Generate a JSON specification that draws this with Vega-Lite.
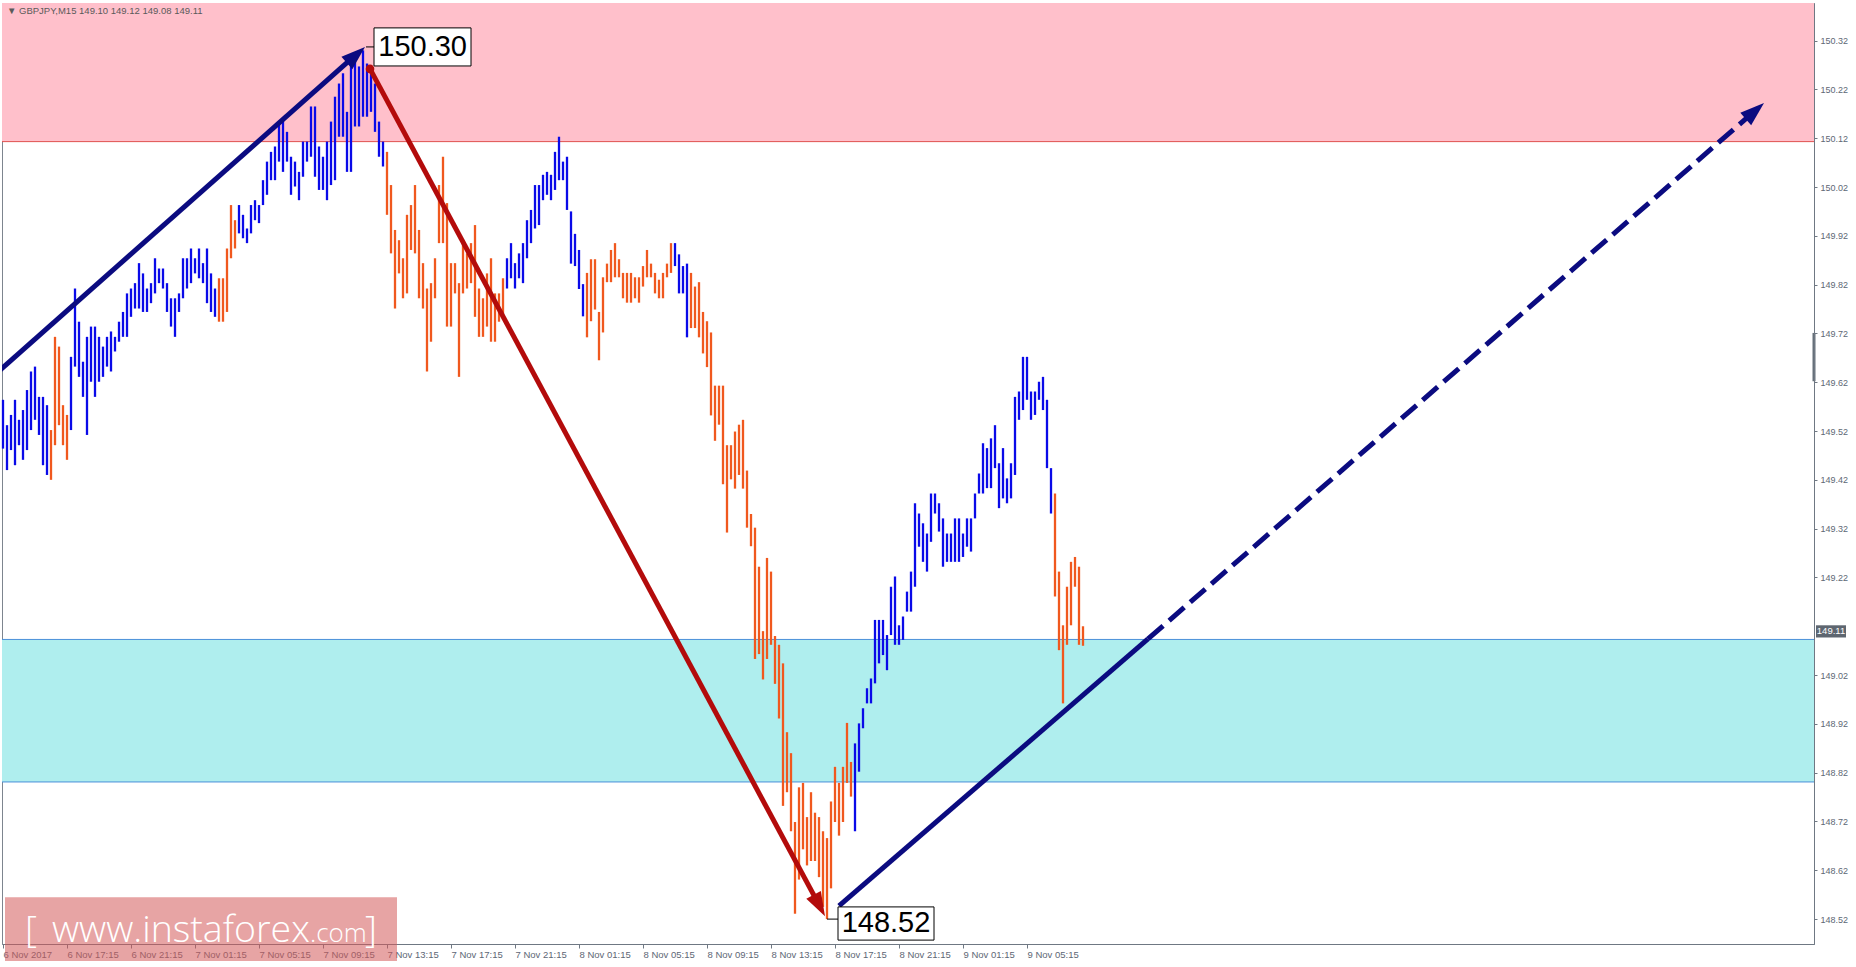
{
"$schema": "https://vega.github.io/schema/vega-lite/v6.json",
"width": 1812, "height": 941,
"autosize": {"type": "none"},
"padding": {"left": 2, "top": 3, "right": 42, "bottom": 23},
"background": "#ffffff",
"view": {"stroke": "#7d858f", "strokeWidth": 1},
"config": {"axis": {"title": null, "grid": false}, "font": "Liberation Sans"},
"resolve": {"axis": {"x": "independent", "y": "independent"}},
"datasets": {
"zones": [{"z":"resistance","lo":150.113,"hi":150.6},{"z":"support","lo":148.801,"hi":149.093}],
"levels": [{"z":"resistance","v":150.113},{"z":"support","v":149.093},{"z":"support","v":148.801}],
"bars": [
{"t":"2017-11-06T13:15Z","h":149.584,"l":149.484,"dir":"up"},
{"t":"2017-11-06T13:30Z","h":149.532,"l":149.440,"dir":"up"},
{"t":"2017-11-06T13:45Z","h":149.553,"l":149.481,"dir":"up"},
{"t":"2017-11-06T14:00Z","h":149.584,"l":149.450,"dir":"up"},
{"t":"2017-11-06T14:15Z","h":149.543,"l":149.491,"dir":"up"},
{"t":"2017-11-06T14:30Z","h":149.563,"l":149.461,"dir":"up"},
{"t":"2017-11-06T14:45Z","h":149.604,"l":149.481,"dir":"up"},
{"t":"2017-11-06T15:00Z","h":149.642,"l":149.522,"dir":"up"},
{"t":"2017-11-06T15:15Z","h":149.652,"l":149.543,"dir":"up"},
{"t":"2017-11-06T15:30Z","h":149.590,"l":149.512,"dir":"up"},
{"t":"2017-11-06T15:45Z","h":149.590,"l":149.450,"dir":"up"},
{"t":"2017-11-06T16:00Z","h":149.573,"l":149.430,"dir":"up"},
{"t":"2017-11-06T16:15Z","h":149.522,"l":149.420,"dir":"down"},
{"t":"2017-11-06T16:30Z","h":149.713,"l":149.491,"dir":"down"},
{"t":"2017-11-06T16:45Z","h":149.693,"l":149.532,"dir":"down"},
{"t":"2017-11-06T17:00Z","h":149.573,"l":149.491,"dir":"down"},
{"t":"2017-11-06T17:15Z","h":149.553,"l":149.461,"dir":"down"},
{"t":"2017-11-06T17:30Z","h":149.672,"l":149.522,"dir":"up"},
{"t":"2017-11-06T17:45Z","h":149.812,"l":149.652,"dir":"up"},
{"t":"2017-11-06T18:00Z","h":149.744,"l":149.631,"dir":"up"},
{"t":"2017-11-06T18:15Z","h":149.662,"l":149.590,"dir":"up"},
{"t":"2017-11-06T18:30Z","h":149.713,"l":149.512,"dir":"up"},
{"t":"2017-11-06T18:45Z","h":149.734,"l":149.621,"dir":"up"},
{"t":"2017-11-06T19:00Z","h":149.734,"l":149.590,"dir":"up"},
{"t":"2017-11-06T19:15Z","h":149.713,"l":149.621,"dir":"up"},
{"t":"2017-11-06T19:30Z","h":149.693,"l":149.631,"dir":"up"},
{"t":"2017-11-06T19:45Z","h":149.713,"l":149.652,"dir":"up"},
{"t":"2017-11-06T20:00Z","h":149.724,"l":149.642,"dir":"up"},
{"t":"2017-11-06T20:15Z","h":149.713,"l":149.683,"dir":"up"},
{"t":"2017-11-06T20:30Z","h":149.744,"l":149.703,"dir":"up"},
{"t":"2017-11-06T20:45Z","h":149.764,"l":149.713,"dir":"up"},
{"t":"2017-11-06T21:00Z","h":149.802,"l":149.713,"dir":"up"},
{"t":"2017-11-06T21:15Z","h":149.812,"l":149.754,"dir":"up"},
{"t":"2017-11-06T21:30Z","h":149.823,"l":149.771,"dir":"up"},
{"t":"2017-11-06T21:45Z","h":149.864,"l":149.771,"dir":"up"},
{"t":"2017-11-06T22:00Z","h":149.843,"l":149.764,"dir":"up"},
{"t":"2017-11-06T22:15Z","h":149.812,"l":149.764,"dir":"up"},
{"t":"2017-11-06T22:30Z","h":149.823,"l":149.782,"dir":"up"},
{"t":"2017-11-06T22:45Z","h":149.874,"l":149.802,"dir":"up"},
{"t":"2017-11-06T23:00Z","h":149.853,"l":149.823,"dir":"up"},
{"t":"2017-11-06T23:15Z","h":149.853,"l":149.812,"dir":"up"},
{"t":"2017-11-06T23:30Z","h":149.823,"l":149.764,"dir":"up"},
{"t":"2017-11-06T23:45Z","h":149.792,"l":149.734,"dir":"up"},
{"t":"2017-11-07T00:00Z","h":149.792,"l":149.713,"dir":"up"},
{"t":"2017-11-07T00:15Z","h":149.802,"l":149.764,"dir":"up"},
{"t":"2017-11-07T00:30Z","h":149.874,"l":149.792,"dir":"up"},
{"t":"2017-11-07T00:45Z","h":149.874,"l":149.812,"dir":"up"},
{"t":"2017-11-07T01:00Z","h":149.894,"l":149.823,"dir":"up"},
{"t":"2017-11-07T01:15Z","h":149.874,"l":149.843,"dir":"up"},
{"t":"2017-11-07T01:30Z","h":149.894,"l":149.833,"dir":"up"},
{"t":"2017-11-07T01:45Z","h":149.864,"l":149.823,"dir":"up"},
{"t":"2017-11-07T02:00Z","h":149.894,"l":149.782,"dir":"up"},
{"t":"2017-11-07T02:15Z","h":149.843,"l":149.764,"dir":"up"},
{"t":"2017-11-07T02:30Z","h":149.812,"l":149.754,"dir":"up"},
{"t":"2017-11-07T02:45Z","h":149.833,"l":149.744,"dir":"down"},
{"t":"2017-11-07T03:00Z","h":149.833,"l":149.744,"dir":"down"},
{"t":"2017-11-07T03:15Z","h":149.894,"l":149.764,"dir":"down"},
{"t":"2017-11-07T03:30Z","h":149.983,"l":149.874,"dir":"down"},
{"t":"2017-11-07T03:45Z","h":149.952,"l":149.894,"dir":"down"},
{"t":"2017-11-07T04:00Z","h":149.983,"l":149.925,"dir":"up"},
{"t":"2017-11-07T04:15Z","h":149.963,"l":149.915,"dir":"up"},
{"t":"2017-11-07T04:30Z","h":149.935,"l":149.905,"dir":"up"},
{"t":"2017-11-07T04:45Z","h":149.983,"l":149.925,"dir":"up"},
{"t":"2017-11-07T05:00Z","h":149.993,"l":149.952,"dir":"up"},
{"t":"2017-11-07T05:15Z","h":149.983,"l":149.946,"dir":"up"},
{"t":"2017-11-07T05:30Z","h":150.034,"l":149.983,"dir":"up"},
{"t":"2017-11-07T05:45Z","h":150.072,"l":150.004,"dir":"up"},
{"t":"2017-11-07T06:00Z","h":150.092,"l":150.034,"dir":"up"},
{"t":"2017-11-07T06:15Z","h":150.103,"l":150.034,"dir":"up"},
{"t":"2017-11-07T06:30Z","h":150.150,"l":150.072,"dir":"up"},
{"t":"2017-11-07T06:45Z","h":150.157,"l":150.051,"dir":"up"},
{"t":"2017-11-07T07:00Z","h":150.133,"l":150.072,"dir":"up"},
{"t":"2017-11-07T07:15Z","h":150.082,"l":150.004,"dir":"up"},
{"t":"2017-11-07T07:30Z","h":150.072,"l":150.021,"dir":"up"},
{"t":"2017-11-07T07:45Z","h":150.051,"l":149.993,"dir":"up"},
{"t":"2017-11-07T08:00Z","h":150.113,"l":150.041,"dir":"up"},
{"t":"2017-11-07T08:15Z","h":150.113,"l":150.072,"dir":"up"},
{"t":"2017-11-07T08:30Z","h":150.185,"l":150.082,"dir":"up"},
{"t":"2017-11-07T08:45Z","h":150.185,"l":150.041,"dir":"up"},
{"t":"2017-11-07T09:00Z","h":150.103,"l":150.014,"dir":"up"},
{"t":"2017-11-07T09:15Z","h":150.082,"l":150.014,"dir":"up"},
{"t":"2017-11-07T09:30Z","h":150.113,"l":149.993,"dir":"up"},
{"t":"2017-11-07T09:45Z","h":150.154,"l":150.024,"dir":"up"},
{"t":"2017-11-07T10:00Z","h":150.205,"l":150.034,"dir":"up"},
{"t":"2017-11-07T10:15Z","h":150.232,"l":150.123,"dir":"up"},
{"t":"2017-11-07T10:30Z","h":150.253,"l":150.123,"dir":"up"},
{"t":"2017-11-07T10:45Z","h":150.174,"l":150.051,"dir":"up"},
{"t":"2017-11-07T11:00Z","h":150.273,"l":150.051,"dir":"up"},
{"t":"2017-11-07T11:15Z","h":150.284,"l":150.144,"dir":"up"},
{"t":"2017-11-07T11:30Z","h":150.267,"l":150.144,"dir":"up"},
{"t":"2017-11-07T11:45Z","h":150.300,"l":150.164,"dir":"up"},
{"t":"2017-11-07T12:00Z","h":150.273,"l":150.164,"dir":"up"},
{"t":"2017-11-07T12:15Z","h":150.260,"l":150.174,"dir":"up"},
{"t":"2017-11-07T12:30Z","h":150.232,"l":150.133,"dir":"up"},
{"t":"2017-11-07T12:45Z","h":150.154,"l":150.082,"dir":"up"},
{"t":"2017-11-07T13:00Z","h":150.113,"l":150.062,"dir":"up"},
{"t":"2017-11-07T13:15Z","h":150.092,"l":149.963,"dir":"down"},
{"t":"2017-11-07T13:30Z","h":150.024,"l":149.884,"dir":"down"},
{"t":"2017-11-07T13:45Z","h":149.932,"l":149.771,"dir":"down"},
{"t":"2017-11-07T14:00Z","h":149.911,"l":149.843,"dir":"down"},
{"t":"2017-11-07T14:15Z","h":149.874,"l":149.792,"dir":"down"},
{"t":"2017-11-07T14:30Z","h":149.963,"l":149.802,"dir":"down"},
{"t":"2017-11-07T14:45Z","h":149.983,"l":149.891,"dir":"down"},
{"t":"2017-11-07T15:00Z","h":150.024,"l":149.884,"dir":"down"},
{"t":"2017-11-07T15:15Z","h":149.932,"l":149.792,"dir":"down"},
{"t":"2017-11-07T15:30Z","h":149.864,"l":149.771,"dir":"down"},
{"t":"2017-11-07T15:45Z","h":149.812,"l":149.642,"dir":"down"},
{"t":"2017-11-07T16:00Z","h":149.823,"l":149.703,"dir":"down"},
{"t":"2017-11-07T16:15Z","h":149.874,"l":149.792,"dir":"down"},
{"t":"2017-11-07T16:30Z","h":150.024,"l":149.905,"dir":"down"},
{"t":"2017-11-07T16:45Z","h":150.082,"l":149.905,"dir":"down"},
{"t":"2017-11-07T17:00Z","h":149.987,"l":149.734,"dir":"down"},
{"t":"2017-11-07T17:15Z","h":149.864,"l":149.734,"dir":"down"},
{"t":"2017-11-07T17:30Z","h":149.864,"l":149.802,"dir":"down"},
{"t":"2017-11-07T17:45Z","h":149.823,"l":149.631,"dir":"down"},
{"t":"2017-11-07T18:00Z","h":149.905,"l":149.802,"dir":"down"},
{"t":"2017-11-07T18:15Z","h":149.884,"l":149.812,"dir":"down"},
{"t":"2017-11-07T18:30Z","h":149.905,"l":149.823,"dir":"down"},
{"t":"2017-11-07T18:45Z","h":149.942,"l":149.754,"dir":"down"},
{"t":"2017-11-07T19:00Z","h":149.812,"l":149.713,"dir":"down"},
{"t":"2017-11-07T19:15Z","h":149.792,"l":149.713,"dir":"down"},
{"t":"2017-11-07T19:30Z","h":149.843,"l":149.734,"dir":"down"},
{"t":"2017-11-07T19:45Z","h":149.874,"l":149.703,"dir":"down"},
{"t":"2017-11-07T20:00Z","h":149.802,"l":149.703,"dir":"down"},
{"t":"2017-11-07T20:15Z","h":149.802,"l":149.744,"dir":"down"},
{"t":"2017-11-07T20:30Z","h":149.833,"l":149.754,"dir":"down"},
{"t":"2017-11-07T20:45Z","h":149.874,"l":149.812,"dir":"up"},
{"t":"2017-11-07T21:00Z","h":149.905,"l":149.833,"dir":"up"},
{"t":"2017-11-07T21:15Z","h":149.864,"l":149.812,"dir":"up"},
{"t":"2017-11-07T21:30Z","h":149.884,"l":149.833,"dir":"up"},
{"t":"2017-11-07T21:45Z","h":149.905,"l":149.823,"dir":"up"},
{"t":"2017-11-07T22:00Z","h":149.952,"l":149.874,"dir":"up"},
{"t":"2017-11-07T22:15Z","h":149.973,"l":149.905,"dir":"up"},
{"t":"2017-11-07T22:30Z","h":150.024,"l":149.935,"dir":"up"},
{"t":"2017-11-07T22:45Z","h":150.024,"l":149.942,"dir":"up"},
{"t":"2017-11-07T23:00Z","h":150.045,"l":149.993,"dir":"up"},
{"t":"2017-11-07T23:15Z","h":150.051,"l":150.004,"dir":"up"},
{"t":"2017-11-07T23:30Z","h":150.045,"l":149.993,"dir":"up"},
{"t":"2017-11-07T23:45Z","h":150.092,"l":150.014,"dir":"up"},
{"t":"2017-11-08T00:00Z","h":150.123,"l":150.034,"dir":"up"},
{"t":"2017-11-08T00:15Z","h":150.072,"l":150.034,"dir":"up"},
{"t":"2017-11-08T00:30Z","h":150.082,"l":149.973,"dir":"up"},
{"t":"2017-11-08T00:45Z","h":149.970,"l":149.863,"dir":"up"},
{"t":"2017-11-08T01:00Z","h":149.924,"l":149.858,"dir":"up"},
{"t":"2017-11-08T01:15Z","h":149.891,"l":149.811,"dir":"up"},
{"t":"2017-11-08T01:30Z","h":149.821,"l":149.755,"dir":"up"},
{"t":"2017-11-08T01:45Z","h":149.844,"l":149.712,"dir":"down"},
{"t":"2017-11-08T02:00Z","h":149.872,"l":149.745,"dir":"down"},
{"t":"2017-11-08T02:15Z","h":149.872,"l":149.769,"dir":"down"},
{"t":"2017-11-08T02:30Z","h":149.764,"l":149.665,"dir":"down"},
{"t":"2017-11-08T02:45Z","h":149.835,"l":149.722,"dir":"down"},
{"t":"2017-11-08T03:00Z","h":149.863,"l":149.825,"dir":"down"},
{"t":"2017-11-08T03:15Z","h":149.891,"l":149.825,"dir":"down"},
{"t":"2017-11-08T03:30Z","h":149.905,"l":149.835,"dir":"down"},
{"t":"2017-11-08T03:45Z","h":149.872,"l":149.835,"dir":"down"},
{"t":"2017-11-08T04:00Z","h":149.844,"l":149.792,"dir":"down"},
{"t":"2017-11-08T04:15Z","h":149.844,"l":149.783,"dir":"down"},
{"t":"2017-11-08T04:30Z","h":149.844,"l":149.783,"dir":"down"},
{"t":"2017-11-08T04:45Z","h":149.835,"l":149.792,"dir":"down"},
{"t":"2017-11-08T05:00Z","h":149.835,"l":149.783,"dir":"down"},
{"t":"2017-11-08T05:15Z","h":149.858,"l":149.816,"dir":"down"},
{"t":"2017-11-08T05:30Z","h":149.891,"l":149.835,"dir":"down"},
{"t":"2017-11-08T05:45Z","h":149.863,"l":149.835,"dir":"down"},
{"t":"2017-11-08T06:00Z","h":149.844,"l":149.802,"dir":"down"},
{"t":"2017-11-08T06:15Z","h":149.830,"l":149.792,"dir":"down"},
{"t":"2017-11-08T06:30Z","h":149.844,"l":149.792,"dir":"down"},
{"t":"2017-11-08T06:45Z","h":149.863,"l":149.835,"dir":"down"},
{"t":"2017-11-08T07:00Z","h":149.905,"l":149.844,"dir":"down"},
{"t":"2017-11-08T07:15Z","h":149.905,"l":149.858,"dir":"up"},
{"t":"2017-11-08T07:30Z","h":149.882,"l":149.802,"dir":"up"},
{"t":"2017-11-08T07:45Z","h":149.858,"l":149.802,"dir":"up"},
{"t":"2017-11-08T08:00Z","h":149.863,"l":149.712,"dir":"up"},
{"t":"2017-11-08T08:15Z","h":149.844,"l":149.731,"dir":"down"},
{"t":"2017-11-08T08:30Z","h":149.816,"l":149.731,"dir":"down"},
{"t":"2017-11-08T08:45Z","h":149.825,"l":149.712,"dir":"down"},
{"t":"2017-11-08T09:00Z","h":149.764,"l":149.679,"dir":"down"},
{"t":"2017-11-08T09:15Z","h":149.745,"l":149.651,"dir":"down"},
{"t":"2017-11-08T09:30Z","h":149.722,"l":149.552,"dir":"down"},
{"t":"2017-11-08T09:45Z","h":149.613,"l":149.500,"dir":"down"},
{"t":"2017-11-08T10:00Z","h":149.613,"l":149.533,"dir":"down"},
{"t":"2017-11-08T10:15Z","h":149.613,"l":149.411,"dir":"down"},
{"t":"2017-11-08T10:30Z","h":149.491,"l":149.312,"dir":"down"},
{"t":"2017-11-08T10:45Z","h":149.491,"l":149.421,"dir":"down"},
{"t":"2017-11-08T11:00Z","h":149.519,"l":149.402,"dir":"down"},
{"t":"2017-11-08T11:15Z","h":149.533,"l":149.430,"dir":"down"},
{"t":"2017-11-08T11:30Z","h":149.543,"l":149.402,"dir":"down"},
{"t":"2017-11-08T11:45Z","h":149.439,"l":149.322,"dir":"down"},
{"t":"2017-11-08T12:00Z","h":149.350,"l":149.284,"dir":"down"},
{"t":"2017-11-08T12:15Z","h":149.322,"l":149.053,"dir":"down"},
{"t":"2017-11-08T12:30Z","h":149.242,"l":149.063,"dir":"down"},
{"t":"2017-11-08T12:45Z","h":149.110,"l":149.011,"dir":"down"},
{"t":"2017-11-08T13:00Z","h":149.260,"l":149.053,"dir":"down"},
{"t":"2017-11-08T13:15Z","h":149.232,"l":149.082,"dir":"down"},
{"t":"2017-11-08T13:30Z","h":149.100,"l":149.002,"dir":"down"},
{"t":"2017-11-08T13:45Z","h":149.082,"l":148.931,"dir":"down"},
{"t":"2017-11-08T14:00Z","h":149.044,"l":148.752,"dir":"down"},
{"t":"2017-11-08T14:15Z","h":148.903,"l":148.780,"dir":"down"},
{"t":"2017-11-08T14:30Z","h":148.860,"l":148.700,"dir":"down"},
{"t":"2017-11-08T14:45Z","h":148.719,"l":148.531,"dir":"down"},
{"t":"2017-11-08T15:00Z","h":148.790,"l":148.601,"dir":"down"},
{"t":"2017-11-08T15:15Z","h":148.799,"l":148.663,"dir":"down"},
{"t":"2017-11-08T15:30Z","h":148.729,"l":148.630,"dir":"down"},
{"t":"2017-11-08T15:45Z","h":148.780,"l":148.639,"dir":"down"},
{"t":"2017-11-08T16:00Z","h":148.738,"l":148.639,"dir":"down"},
{"t":"2017-11-08T16:15Z","h":148.729,"l":148.606,"dir":"down"},
{"t":"2017-11-08T16:30Z","h":148.700,"l":148.545,"dir":"down"},
{"t":"2017-11-08T16:45Z","h":148.686,"l":148.520,"dir":"down"},
{"t":"2017-11-08T17:00Z","h":148.761,"l":148.583,"dir":"down"},
{"t":"2017-11-08T17:15Z","h":148.832,"l":148.719,"dir":"down"},
{"t":"2017-11-08T17:30Z","h":148.799,"l":148.691,"dir":"down"},
{"t":"2017-11-08T17:45Z","h":148.832,"l":148.719,"dir":"down"},
{"t":"2017-11-08T18:00Z","h":148.922,"l":148.799,"dir":"down"},
{"t":"2017-11-08T18:15Z","h":148.842,"l":148.771,"dir":"down"},
{"t":"2017-11-08T18:30Z","h":148.880,"l":148.700,"dir":"up"},
{"t":"2017-11-08T18:45Z","h":148.921,"l":148.822,"dir":"up"},
{"t":"2017-11-08T19:00Z","h":148.952,"l":148.911,"dir":"up"},
{"t":"2017-11-08T19:15Z","h":148.993,"l":148.962,"dir":"up"},
{"t":"2017-11-08T19:30Z","h":149.013,"l":148.962,"dir":"up"},
{"t":"2017-11-08T19:45Z","h":149.133,"l":149.003,"dir":"up"},
{"t":"2017-11-08T20:00Z","h":149.133,"l":149.044,"dir":"up"},
{"t":"2017-11-08T20:15Z","h":149.133,"l":149.061,"dir":"up"},
{"t":"2017-11-08T20:30Z","h":149.102,"l":149.030,"dir":"up"},
{"t":"2017-11-08T20:45Z","h":149.201,"l":149.102,"dir":"up"},
{"t":"2017-11-08T21:00Z","h":149.222,"l":149.082,"dir":"up"},
{"t":"2017-11-08T21:15Z","h":149.122,"l":149.082,"dir":"up"},
{"t":"2017-11-08T21:30Z","h":149.140,"l":149.092,"dir":"up"},
{"t":"2017-11-08T21:45Z","h":149.191,"l":149.150,"dir":"up"},
{"t":"2017-11-08T22:00Z","h":149.232,"l":149.150,"dir":"up"},
{"t":"2017-11-08T22:15Z","h":149.372,"l":149.201,"dir":"up"},
{"t":"2017-11-08T22:30Z","h":149.351,"l":149.283,"dir":"up"},
{"t":"2017-11-08T22:45Z","h":149.331,"l":149.252,"dir":"up"},
{"t":"2017-11-08T23:00Z","h":149.310,"l":149.232,"dir":"up"},
{"t":"2017-11-08T23:15Z","h":149.392,"l":149.293,"dir":"up"},
{"t":"2017-11-08T23:30Z","h":149.392,"l":149.351,"dir":"up"},
{"t":"2017-11-08T23:45Z","h":149.372,"l":149.314,"dir":"up"},
{"t":"2017-11-09T00:00Z","h":149.341,"l":149.242,"dir":"up"},
{"t":"2017-11-09T00:15Z","h":149.310,"l":149.252,"dir":"up"},
{"t":"2017-11-09T00:30Z","h":149.310,"l":149.252,"dir":"up"},
{"t":"2017-11-09T00:45Z","h":149.341,"l":149.252,"dir":"up"},
{"t":"2017-11-09T01:00Z","h":149.341,"l":149.252,"dir":"up"},
{"t":"2017-11-09T01:15Z","h":149.310,"l":149.262,"dir":"up"},
{"t":"2017-11-09T01:30Z","h":149.341,"l":149.283,"dir":"up"},
{"t":"2017-11-09T01:45Z","h":149.341,"l":149.273,"dir":"up"},
{"t":"2017-11-09T02:00Z","h":149.392,"l":149.341,"dir":"up"},
{"t":"2017-11-09T02:15Z","h":149.433,"l":149.392,"dir":"up"},
{"t":"2017-11-09T02:30Z","h":149.495,"l":149.392,"dir":"up"},
{"t":"2017-11-09T02:45Z","h":149.485,"l":149.403,"dir":"up"},
{"t":"2017-11-09T03:00Z","h":149.505,"l":149.403,"dir":"up"},
{"t":"2017-11-09T03:15Z","h":149.532,"l":149.444,"dir":"up"},
{"t":"2017-11-09T03:30Z","h":149.454,"l":149.362,"dir":"up"},
{"t":"2017-11-09T03:45Z","h":149.485,"l":149.382,"dir":"up"},
{"t":"2017-11-09T04:00Z","h":149.423,"l":149.372,"dir":"up"},
{"t":"2017-11-09T04:15Z","h":149.454,"l":149.382,"dir":"up"},
{"t":"2017-11-09T04:30Z","h":149.590,"l":149.430,"dir":"up"},
{"t":"2017-11-09T04:45Z","h":149.601,"l":149.543,"dir":"up"},
{"t":"2017-11-09T05:00Z","h":149.672,"l":149.563,"dir":"up"},
{"t":"2017-11-09T05:15Z","h":149.672,"l":149.584,"dir":"up"},
{"t":"2017-11-09T05:30Z","h":149.601,"l":149.543,"dir":"up"},
{"t":"2017-11-09T05:45Z","h":149.601,"l":149.553,"dir":"up"},
{"t":"2017-11-09T06:00Z","h":149.621,"l":149.584,"dir":"up"},
{"t":"2017-11-09T06:15Z","h":149.631,"l":149.563,"dir":"up"},
{"t":"2017-11-09T06:30Z","h":149.584,"l":149.444,"dir":"up"},
{"t":"2017-11-09T06:45Z","h":149.444,"l":149.351,"dir":"up"},
{"t":"2017-11-09T07:00Z","h":149.392,"l":149.181,"dir":"down"},
{"t":"2017-11-09T07:15Z","h":149.232,"l":149.071,"dir":"down"},
{"t":"2017-11-09T07:30Z","h":149.122,"l":148.962,"dir":"down"},
{"t":"2017-11-09T07:45Z","h":149.201,"l":149.082,"dir":"down"},
{"t":"2017-11-09T08:00Z","h":149.252,"l":149.122,"dir":"down"},
{"t":"2017-11-09T08:15Z","h":149.262,"l":149.201,"dir":"down"},
{"t":"2017-11-09T08:30Z","h":149.242,"l":149.082,"dir":"down"},
{"t":"2017-11-09T08:45Z","h":149.120,"l":149.080,"dir":"down"}
],
"lines": [
{"s":"up","t":"2017-11-06T12:41:15Z","p":149.634},{"s":"up","t":"2017-11-07T11:18:45Z","p":150.291},
{"s":"down","t":"2017-11-07T12:11:15Z","p":150.262},{"s":"down","t":"2017-11-08T16:16:12Z","p":148.548},
{"s":"next","t":"2017-11-08T17:30:00Z","p":148.547},{"s":"next","t":"2017-11-09T12:48:45Z","p":149.094},
{"s":"proj","t":"2017-11-09T12:48:45Z","p":149.094},{"s":"proj","t":"2017-11-11T02:44:42Z","p":150.176}
],
"heads": [
{"s":"up","t":"2017-11-07T11:52:30Z","p":150.307},
{"s":"down","t":"2017-11-08T16:37:30Z","p":148.526},
{"s":"proj","t":"2017-11-11T03:18:45Z","p":150.192}
],
"labels": [
{"text":"150.30","t1":"2017-11-07T12:26:15Z","t2":"2017-11-07T18:30:00Z","p1":150.268,"p2":150.346,"tc":"2017-11-07T15:28:30Z","pc":150.307,"ta":"2017-11-07T11:56:15Z","pa":150.307},
{"text":"148.52","t1":"2017-11-08T17:26:15Z","t2":"2017-11-08T23:26:15Z","p1":148.477,"p2":148.545,"tc":"2017-11-08T20:26:15Z","pc":148.512,"ta":"2017-11-08T16:45:00Z","pa":148.520}
],
"mark": [
{"t1":"2017-11-06T13:22:30Z","t2":"2017-11-07T13:52:30Z","p1":148.434,"p2":148.565}
],
"wm": [
{"text":"[","t":"2017-11-06T14:37:30Z","part":"big"},
{"text":"www.instaforex","t":"2017-11-06T16:18:45Z","part":"big"},
{"text":".com","t":"2017-11-07T08:26:15Z","part":"small"},
{"text":"]","t":"2017-11-07T11:52:30Z","part":"big"}
],
"info": [{"text":"▼ GBPJPY,M15  149.10 149.12 149.08 149.11","t":"2017-11-06T13:30:00Z","p":150.381}],
"tag": [{"text":"149.11","t1":"2017-11-11T06:33:45Z","t2":"2017-11-11T08:26:15Z","tc":"2017-11-11T07:30:00Z","p1":149.097,"p2":149.122,"p":149.11}],
"scroll": [{"t":"2017-11-11T06:26:15Z","p1":149.622,"p2":149.721}]
},
"layer": [
{"data":{"name":"zones"},"mark":{"type":"rect","clip":true},
 "encoding":{"y":{"field":"lo","type":"quantitative","axis":null},"y2":{"field":"hi"},
  "fill":{"field":"z","type":"nominal","scale":{"domain":["resistance","support"],"range":["#ffc0cb","#afeeee"]},"legend":null}}},
{"data":{"name":"levels"},"mark":{"type":"rule","strokeWidth":1},
 "encoding":{"y":{"field":"v","type":"quantitative","axis":null},
  "stroke":{"field":"z","type":"nominal","scale":{"domain":["resistance","support"],"range":["#e0504f","#4a90d9"]},"legend":null}}},
{"data":{"name":"bars"},"mark":{"type":"rule","strokeWidth":2.3},
 "encoding":{
  "x":{"field":"t","type":"temporal","scale":{"type":"utc","domain":[1509973875000,1510381575000]},
   "axis":{"orient":"bottom","values":[1509974100000,1509988500000,1510002900000,1510017300000,1510031700000,1510046100000,1510060500000,1510074900000,1510089300000,1510103700000,1510118100000,1510132500000,1510146900000,1510161300000,1510175700000,1510190100000,1510204500000],
    "labelExpr":"time(datum.value) == 1509974100000 ? '6 Nov 2017' : utcFormat(datum.value, '%-d %b %H:%M')",
    "labelAlign":"left","labelFontSize":9.5,"labelFont":"Liberation Sans","labelColor":"#5d6775","tickColor":"#6f7883","tickSize":4,"labelPadding":1,"domainColor":"#6f7883","labelOverlap":false,"labelFlush":false,"labelBound":false,"zindex":0}},
  "y":{"field":"l","type":"quantitative","scale":{"domain":[148.469,150.397],"nice":false,"zero":false},
   "axis":{"orient":"right","values":[150.32,150.22,150.12,150.02,149.92,149.82,149.72,149.62,149.52,149.42,149.32,149.22,149.02,148.92,148.82,148.72,148.62,148.52],
    "format":".2f","labelFontSize":9,"labelFont":"Liberation Sans","labelColor":"#5d6775","tickColor":"#6f7883","tickSize":3,"labelPadding":3,"domainColor":"#6f7883","labelOverlap":false,"labelFlush":false,"zindex":1}},
  "y2":{"field":"h"},
  "color":{"field":"dir","type":"nominal","scale":{"domain":["up","down"],"range":["#0a0ae8","#f0581e"]},"legend":null}}},
{"data":{"name":"lines"},"transform":[{"filter":"datum.s == 'up'"}],"mark":{"type":"line","clip":true,"color":"#0b0b80","strokeWidth":5,"strokeCap":"butt"},
 "encoding":{"x":{"field":"t","type":"temporal","axis":null},"y":{"field":"p","type":"quantitative","axis":null}}},
{"data":{"name":"lines"},"transform":[{"filter":"datum.s == 'down'"}],"mark":{"type":"line","clip":true,"color":"#b30b0b","strokeWidth":5,"strokeCap":"butt"},
 "encoding":{"x":{"field":"t","type":"temporal","axis":null},"y":{"field":"p","type":"quantitative","axis":null}}},
{"data":{"name":"lines"},"transform":[{"filter":"datum.s == 'next'"}],"mark":{"type":"line","clip":true,"color":"#0b0b80","strokeWidth":5,"strokeCap":"butt"},
 "encoding":{"x":{"field":"t","type":"temporal","axis":null},"y":{"field":"p","type":"quantitative","axis":null}}},
{"data":{"name":"lines"},"transform":[{"filter":"datum.s == 'proj'"}],"mark":{"type":"line","clip":true,"color":"#0b0b80","strokeWidth":5,"strokeCap":"butt","strokeDash":[20,8]},
 "encoding":{"x":{"field":"t","type":"temporal","axis":null},"y":{"field":"p","type":"quantitative","axis":null}}},
{"data":{"name":"lines"},"transform":[{"filter":"datum.s == 'down'"},{"filter":"datum.p > 150"}],"mark":{"type":"point","shape":"circle","filled":true,"size":75,"color":"#b30b0b","opacity":1},
 "encoding":{"x":{"field":"t","type":"temporal","axis":null},"y":{"field":"p","type":"quantitative","axis":null}}},
{"data":{"name":"heads"},"transform":[{"filter":"datum.s == 'up'"}],"mark":{"type":"point","shape":"M0,0L0.75,2.2L-0.75,2.2Z","filled":true,"size":484,"angle":48.5,"color":"#0b0b80","opacity":1,"strokeWidth":0},
 "encoding":{"x":{"field":"t","type":"temporal","axis":null},"y":{"field":"p","type":"quantitative","axis":null}}},
{"data":{"name":"heads"},"transform":[{"filter":"datum.s == 'down'"}],"mark":{"type":"point","shape":"M0,0L0.75,2.2L-0.75,2.2Z","filled":true,"size":484,"angle":151.8,"color":"#b30b0b","opacity":1,"strokeWidth":0},
 "encoding":{"x":{"field":"t","type":"temporal","axis":null},"y":{"field":"p","type":"quantitative","axis":null}}},
{"data":{"name":"heads"},"transform":[{"filter":"datum.s == 'proj'"}],"mark":{"type":"point","shape":"M0,0L0.75,2.2L-0.75,2.2Z","filled":true,"size":484,"angle":49,"color":"#0b0b80","opacity":1,"strokeWidth":0},
 "encoding":{"x":{"field":"t","type":"temporal","axis":null},"y":{"field":"p","type":"quantitative","axis":null}}},
{"data":{"name":"labels"},"mark":{"type":"rule","color":"#000000","strokeWidth":1},
 "encoding":{"x":{"field":"ta","type":"temporal","axis":null},"x2":{"field":"t1"},"y":{"field":"pa","type":"quantitative","axis":null}}},
{"data":{"name":"labels"},"mark":{"type":"rect","fill":"#ffffff","stroke":"#000000","strokeWidth":1},
 "encoding":{"x":{"field":"t1","type":"temporal","axis":null},"x2":{"field":"t2"},"y":{"field":"p1","type":"quantitative","axis":null},"y2":{"field":"p2"}}},
{"data":{"name":"labels"},"mark":{"type":"text","font":"Liberation Sans","fontSize":29,"align":"center","baseline":"middle","color":"#000000"},
 "encoding":{"x":{"field":"tc","type":"temporal","axis":null},"y":{"field":"pc","type":"quantitative","axis":null},"text":{"field":"text"}}},
{"data":{"name":"mark"},"mark":{"type":"rect","fill":"#d45a5a","opacity":0.55},
 "encoding":{"x":{"field":"t1","type":"temporal","axis":null},"x2":{"field":"t2"},"y":{"field":"p1","type":"quantitative","axis":null},"y2":{"field":"p2"}}},
{"data":{"name":"wm"},"transform":[{"filter":"datum.part == 'big'"},{"calculate":"148.473","as":"base"}],"mark":{"type":"text","font":"Open Sans","fontWeight":300,"fontSize":37.5,"align":"left","baseline":"alphabetic","color":"#ffffff"},
 "encoding":{"x":{"field":"t","type":"temporal","axis":null},"y":{"field":"base","type":"quantitative","axis":null},"text":{"field":"text"}}},
{"data":{"name":"wm"},"transform":[{"filter":"datum.part == 'small'"},{"calculate":"148.473","as":"base"}],"mark":{"type":"text","font":"Open Sans","fontWeight":300,"fontSize":26,"align":"left","baseline":"alphabetic","color":"#ffffff"},
 "encoding":{"x":{"field":"t","type":"temporal","axis":null},"y":{"field":"base","type":"quantitative","axis":null},"text":{"field":"text"}}},
{"data":{"name":"info"},"mark":{"type":"text","font":"Liberation Sans","fontSize":9.5,"align":"left","baseline":"middle","color":"#5a5a5a"},
 "encoding":{"x":{"field":"t","type":"temporal","axis":null},"y":{"field":"p","type":"quantitative","axis":null},"text":{"field":"text"}}},
{"data":{"name":"scroll"},"mark":{"type":"rule","color":"#66707a","strokeWidth":3},
 "encoding":{"x":{"field":"t","type":"temporal","axis":null},"y":{"field":"p1","type":"quantitative","axis":null},"y2":{"field":"p2"}}},
{"data":{"name":"tag"},"mark":{"type":"rect","fill":"#5e6670"},
 "encoding":{"x":{"field":"t1","type":"temporal","axis":null},"x2":{"field":"t2"},"y":{"field":"p1","type":"quantitative","axis":null},"y2":{"field":"p2"}}},
{"data":{"name":"tag"},"mark":{"type":"text","font":"Liberation Sans","fontSize":9.5,"align":"center","baseline":"middle","color":"#ffffff"},
 "encoding":{"x":{"field":"tc","type":"temporal","axis":null},"y":{"field":"p","type":"quantitative","axis":null},"text":{"field":"text"}}}
]
}
